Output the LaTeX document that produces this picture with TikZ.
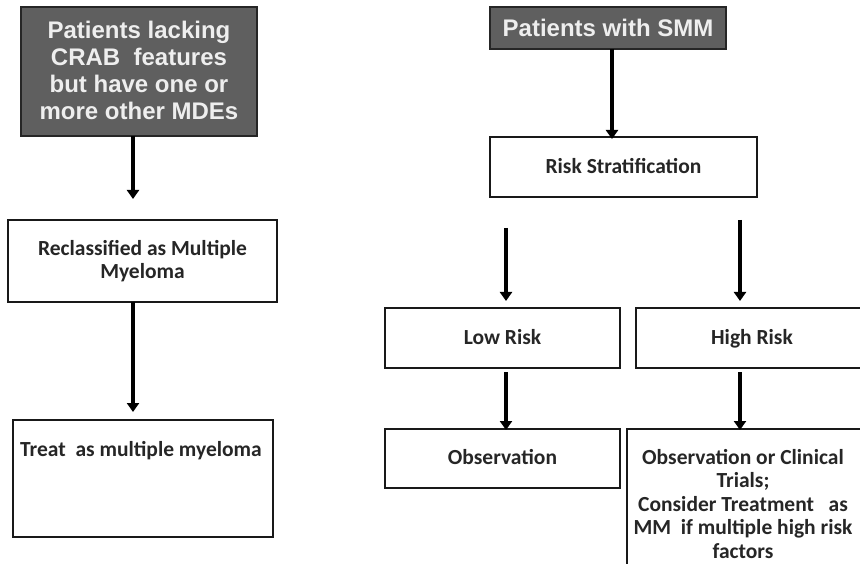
\documentclass[tikz,border=0pt]{standalone}
\usepackage{fontspec}
\setmainfont{Carlito}
\newfontfamily\arialb{Liberation Sans}[BoldFont={* Bold}]
\usetikzlibrary{arrows.meta}
\definecolor{darkbox}{HTML}{5F5F5F}
\definecolor{lighttext}{HTML}{EEEEEE}
\tikzset{
  x=1pt,y=-1pt,
  darkstyle/.style={draw=black!85,line width=1.8pt,fill=darkbox,inner sep=0pt},
  boxstyle/.style={draw=black!90,line width=1.8pt,fill=white,inner sep=0pt},
  txt/.style={font=\bfseries\fontsize{21.5}{23.5}\selectfont,align=center,inner sep=0pt,text=black!85},
  dtxt/.style={font=\arialb\bfseries\fontsize{24}{27}\selectfont,align=center,inner sep=0pt,text=lighttext},
  arr/.style={line width=3.6pt,-{Triangle[width=12pt,length=9pt]}}
}
\begin{document}
\begin{tikzpicture}
\useasboundingbox (0,0) rectangle (860,564);
% left column
\node[darkstyle,minimum width=236pt,minimum height=129pt] (p1) at (139,71.5) {};
\node[dtxt] (p1t) at (139,70) {Patients lacking\\CRAB\ \ features\\but have one or\\more other MDEs};
\coordinate (a1s) at (133,136);
\coordinate (a1e) at (133,199);
\node[boxstyle,minimum width=269pt,minimum height=82pt] (rc) at (142.5,261) {};
\node[txt,anchor=north] (rct) at (142.5,240) {Reclassified as Multiple\\Myeloma};
\coordinate (a2s) at (133,302);
\coordinate (a2e) at (133,412);
\node[boxstyle,minimum width=260pt,minimum height=117pt] (tr) at (143,478.5) {};
\node[txt] (trt) at (141,451) {Treat\ \ as multiple myeloma};
\draw[arr] (a1s) -- (a1e);
\draw[arr] (a2s) -- (a2e);
% right column
\node[darkstyle,minimum width=236pt,minimum height=42pt] (smm) at (608,28) {};
\node[dtxt] (smmt) at (608,28) {Patients with SMM};
\node[boxstyle,minimum width=267pt,minimum height=60pt] (rs) at (623.5,167) {};
\node[txt] (rst) at (623.5,166) {Risk Stratification};
\coordinate (s1) at (612,49);
\coordinate (s2) at (612,139);
\draw[arr] (s1) -- (s2);
\coordinate (lrs) at (506,228);
\coordinate (lre) at (506,301);
\coordinate (hrs) at (740,220);
\coordinate (hre) at (740,301);
\node[boxstyle,minimum width=235pt,minimum height=60pt] (lr) at (502.5,338) {};
\node[txt] (lrt) at (502.5,337) {Low Risk};
\node[boxstyle,minimum width=240pt,minimum height=60pt] (hr) at (756,338) {};
\node[txt] (hrt) at (752,339) {High Risk};
\draw[arr] (lrs) -- (lre);
\draw[arr] (hrs) -- (hre);
\node[boxstyle,minimum width=235pt,minimum height=59pt] (ob) at (502.5,458.5) {};
\node[txt] (obt) at (502.5,457) {Observation};
\coordinate (oc) at (740,430);
\coordinate (ocs) at (740,372);
\coordinate (obs) at (506,372);
\coordinate (obe) at (506,430);
\draw[boxstyle] (627,570) -- (627,429) -- (870,429);
\node[txt,anchor=north] (oct) at (743,449) {Observation or Clinical\\Trials;\\Consider Treatment\ \ \ as\\MM\ \ if multiple high risk\\factors};
\draw[arr] (obs) -- (obe);
\draw[arr] (ocs) -- (oc);
\end{tikzpicture}
\end{document}
